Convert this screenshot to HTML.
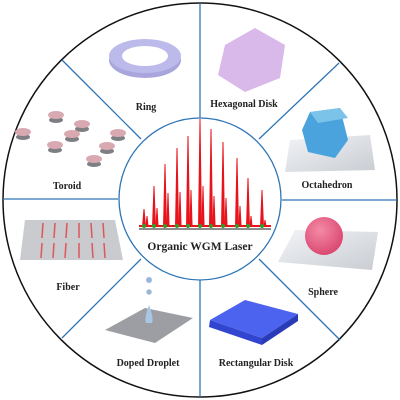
<!DOCTYPE html>
<html><head><meta charset="utf-8"><style>
html,body{margin:0;padding:0;background:#fff;width:400px;height:400px;overflow:hidden}
text{font-family:"Liberation Serif",serif;font-weight:bold;fill:#222}
</style></head><body>
<svg width="400" height="400" viewBox="0 0 400 400">
<defs>
<radialGradient id="sph" cx="0.4" cy="0.35" r="0.7"><stop offset="0" stop-color="#f48aa6"/><stop offset="1" stop-color="#d9456e"/></radialGradient>
<linearGradient id="pl" x1="0" y1="0" x2="1" y2="1"><stop offset="0" stop-color="#f2f4f7"/><stop offset="1" stop-color="#c9ccd2"/></linearGradient>
<g id="t"><ellipse cx="0" cy="5" rx="7" ry="3" fill="#7d7f82"/><ellipse cx="0" cy="0" rx="8" ry="4" fill="#d9a9b2"/></g>
</defs>
<circle cx="200" cy="200" r="197" fill="#fff" stroke="#111" stroke-width="1.5"/>
<g stroke="#2e75b6" stroke-width="1.3">
<line x1="200" y1="3" x2="200" y2="118"/><line x1="200" y1="280" x2="200" y2="397"/>
<line x1="3" y1="199" x2="118" y2="199"/><line x1="282" y1="200" x2="397" y2="200"/>
<line x1="62" y1="60" x2="141" y2="139"/><line x1="339" y1="63" x2="259" y2="139"/>
<line x1="340" y1="340" x2="259" y2="259"/><line x1="62" y1="338" x2="141" y2="259"/>
</g>
<circle cx="200" cy="199" r="81" fill="#fff" stroke="#2e75b6" stroke-width="1.3"/>

<g>
<ellipse cx="145" cy="60" rx="36" ry="18" fill="#a8a6dc"/><ellipse cx="145" cy="56" rx="36" ry="17" fill="#bcbaea"/>
<ellipse cx="145" cy="56" rx="23" ry="10" fill="#fff"/></g>
<text x="146" y="110" font-size="10" text-anchor="middle">Ring</text>
<polygon points="225,45 255,28 285,45 280,78 245,92 218,75" fill="#d9b8ea"/>
<text x="244" y="107" font-size="10" text-anchor="middle">Hexagonal Disk</text>
<g>
<polygon points="290,140 370,135 375,170 285,172" fill="url(#pl)"/>
<polygon points="310,112 340,108 348,140 335,158 308,152 302,130" fill="#4aa3dc"/>
<polygon points="310,112 340,108 348,118 318,123" fill="#7cc3ea"/></g>
<text x="327" y="188" font-size="10" text-anchor="middle">Octahedron</text>
<g>
<polygon points="295,230 378,232 372,270 278,262" fill="url(#pl)"/>
<circle cx="324" cy="236" r="19" fill="url(#sph)"/></g>
<text x="323" y="295" font-size="10" text-anchor="middle">Sphere</text>
<g>
<polygon points="210,320 245,300 298,314 262,338" fill="#4c63f0"/>
<polygon points="210,320 262,338 262,345 209,327" fill="#3245d0"/>
<polygon points="262,338 298,314 298,321 262,345" fill="#2a3bb8"/></g>
<text x="256" y="366" font-size="10" text-anchor="middle">Rectangular Disk</text>
<g>
<polygon points="105,330 145,308 193,318 155,343" fill="#9c9ea3"/>
<circle cx="149" cy="280" r="3" fill="#9bb7d6"/><circle cx="149" cy="292" r="2.7" fill="#9bb7d6"/>
<path d="M149,305 Q144,318 146,323 L152,323 Q154,318 149,305Z" fill="#a9c7e2"/></g>
<text x="148" y="366" font-size="10" text-anchor="middle">Doped Droplet</text>
<g>
<polygon points="25,220 115,220 123,260 20,260" fill="#c9cbcf"/>
<g stroke="#e0555a" stroke-width="1.5">
<line x1="43" y1="223" x2="42" y2="238"/><line x1="42" y1="243" x2="41" y2="258"/>
<line x1="55" y1="223" x2="54" y2="238"/><line x1="54" y1="243" x2="53" y2="258"/>
<line x1="67" y1="223" x2="66" y2="238"/><line x1="66" y1="243" x2="65" y2="258"/>
<line x1="79" y1="223" x2="79" y2="238"/><line x1="79" y1="243" x2="79" y2="258"/>
<line x1="91" y1="223" x2="92" y2="238"/><line x1="92" y1="243" x2="93" y2="258"/>
<line x1="103" y1="223" x2="104" y2="238"/><line x1="104" y1="243" x2="105" y2="258"/></g></g>
<text x="68" y="290" font-size="10" text-anchor="middle">Fiber</text>
<g>
<use href="#t" x="23" y="132"/><use href="#t" x="56" y="115"/><use href="#t" x="82" y="124"/>
<use href="#t" x="72" y="134"/><use href="#t" x="55" y="145"/><use href="#t" x="118" y="133"/>
<use href="#t" x="107" y="146"/><use href="#t" x="94" y="159"/></g>
<text x="67" y="189" font-size="10" text-anchor="middle">Toroid</text>

<g id="spectrum"></g>
<line x1="139" y1="229" x2="271" y2="229" stroke="#666" stroke-width="1.5"/>
<text x="200" y="250" font-size="11.5" text-anchor="middle">Organic WGM  Laser</text>
</svg>
<script>
const peakPos=[144,154,165,177,188,200,211,223,237,248,262];
const mainPeak=[209,186,164,148,136,119,129,142,158,178,190];
const subPeak=[216,208,193,192,190,186,196,198,206,216,220];
const base=227;
const g=document.getElementById('spectrum');
const ns='http://www.w3.org/2000/svg';
function spike(x,top,w,cls){
  const p=document.createElementNS(ns,'path');
  p.setAttribute('d',`M${x-w},${base} L${x-0.5},${top} L${x+0.5},${top} L${x+w},${base}Z`);
  p.setAttribute('fill','#e8141c');
  
  
  g.appendChild(p);
}
const bg=document.createElementNS(ns,'rect');
bg.setAttribute('x',139);bg.setAttribute('y',225);bg.setAttribute('width',132);bg.setAttribute('height',2);bg.setAttribute('fill','#e8141c');


g.appendChild(bg);
for(let i=0;i<peakPos.length;i++){
  spike(peakPos[i],mainPeak[i],2,'main-peak');
  spike(peakPos[i]+3,subPeak[i],1.6,'side-peak');
  const gp=document.createElementNS(ns,'ellipse');
  gp.setAttribute('cx',peakPos[i]);gp.setAttribute('cy',226);gp.setAttribute('rx',2);gp.setAttribute('ry',2);gp.setAttribute('fill','#2aa02a');
  
  
  g.appendChild(gp);
}
</script>
</body></html>
